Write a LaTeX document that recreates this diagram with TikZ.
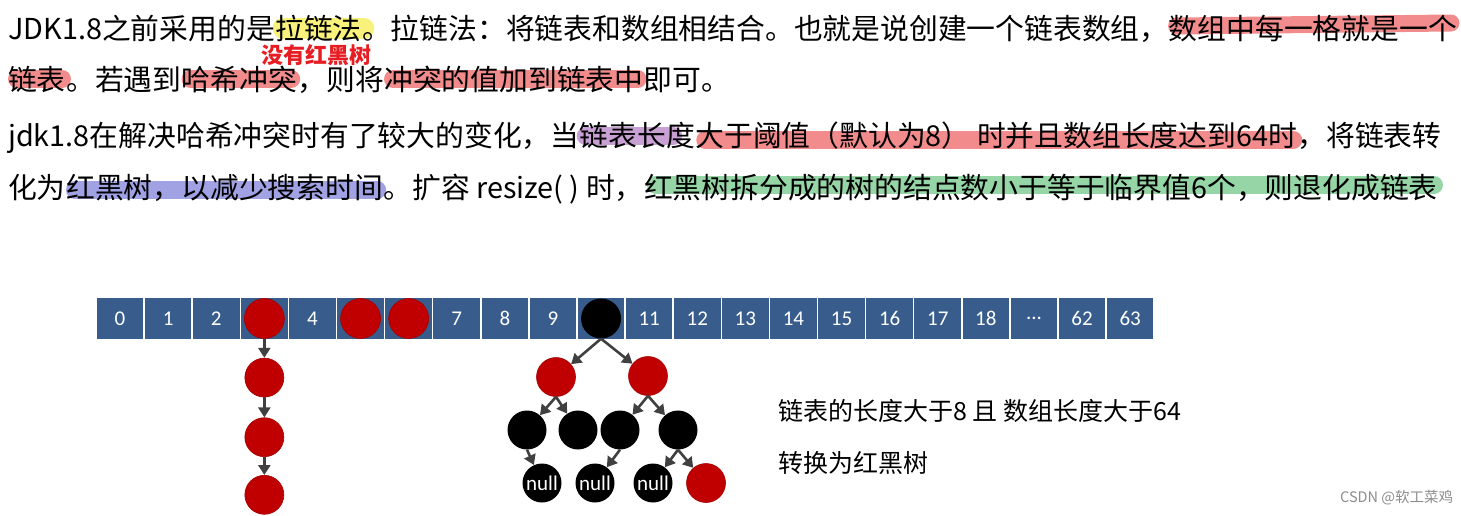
\documentclass[tikz,border=0pt]{standalone}
\usepackage{fontspec}
\setmainfont{Noto Sans CJK SC}
\newfontfamily\numfont{Carlito}
\usetikzlibrary{positioning,arrows.meta,backgrounds}
\definecolor{cellblue}{RGB}{56,93,140}
\definecolor{rbred}{RGB}{192,0,0}
\definecolor{hlyellow}{RGB}{248,242,125}
\definecolor{hlpink}{RGB}{242,140,140}
\definecolor{hlpurple}{RGB}{200,160,212}
\definecolor{hlblue}{RGB}{160,162,228}
\definecolor{hlgreen}{RGB}{150,214,166}
\definecolor{notered}{RGB}{230,30,35}
\definecolor{edgegray}{RGB}{64,64,64}
\newcommand\txtfont{\fontsize{28.8}{34}\selectfont}
\newcommand\celldots{...}

\begin{document}
\begin{tikzpicture}[x=1pt,y=-1pt,
  txt/.style={inner sep=0pt,anchor=base west,font=\txtfont},
  hilite/.style={line width=18pt,line cap=round,draw=#1},
  cell/.style={draw=white,line width=1.5pt,fill=cellblue,text=white,minimum width=48.1pt,minimum height=43pt,inner sep=0pt,font=\numfont\fontsize{21}{24}\selectfont},
  rbr/.style={circle,fill=rbred,draw=rbred!85!black,line width=0.6pt,minimum size=39pt,inner sep=0pt},
  rbb/.style={circle,fill=black,minimum size=39pt,inner sep=0pt,text=white,font=\numfont\fontsize{21}{24}\selectfont},
  link/.style={draw=edgegray,line width=2.6pt,-{Triangle[length=10pt,width=12pt]}}]
  \useasboundingbox (0,0) rectangle (1461,515);

  % text lines
  \node[txt] (l1a) at (8,39) {JDK1.8之前采用的是};
  \node[txt] (l1b) at (l1a.base east) {拉链法};
  \node[txt] (l1c) at (l1b.base east) {。拉链法：将链表和数组相结合。也就是说创建一个链表数组，};
  \node[txt] (l1d) at (l1c.base east) {数组中每一格就是一个};
  \node[txt] (l2a) at (8,90) {链表};
  \node[txt] (l2b) at (l2a.base east) {。若遇到};
  \node[txt] (l2c) at (l2b.base east) {哈希冲突};
  \node[txt] (l2d) at (l2c.base east) {，则将};
  \node[txt] (l2e) at (l2d.base east) {冲突的值加到链表中};
  \node[txt] (l2f) at (l2e.base east) {即可。};
  \node[txt] (l3a) at (8,146) {jdk1.8在解决哈希冲突时有了较大的变化，当};
  \node[txt] (l3b) at (l3a.base east) {链表长度};
  \node[txt] (l3c) at (l3b.base east) {大于阈值（默认为8） 时并且数组长度达到64时};
  \node[txt] (l3d) at (l3c.base east) {，将链表转};
  \node[txt] (l4a) at (8,198) {化为};
  \node[txt] (l4b) at (l4a.base east) {红黑树，以减少搜索时间};
  \node[txt] (l4c) at (l4b.base east) {。扩容 resize( ) 时，};
  \node[txt] (l4d) at (l4c.base east) {红黑树拆分成的树的结点数小于等于临界值6个，则退化成链表};
  \node[txt,font=\bfseries\fontsize{22}{26}\selectfont,text=notered] (note) at (261,63) {没有红黑树};

  % marker strokes
  \begin{scope}[on background layer]
    \draw[hilite=hlyellow,line width=21pt] ([xshift=8pt,yshift=11pt]l1b.base west) -- ([xshift=2pt,yshift=11pt]l1b.base east);
    \draw[hilite=hlpink,line width=17pt] ([xshift=8pt,yshift=13pt]l1d.base west) -- ([xshift=-6pt,yshift=16pt]l1d.base east);
    \draw[hilite=hlpink] ([xshift=9pt,yshift=11pt]l2a.base west) -- ([xshift=-4pt,yshift=11pt]l2a.base east);
    \draw[hilite=hlpink] ([xshift=9pt,yshift=11pt]l2c.base west) -- ([xshift=-6pt,yshift=11pt]l2c.base east);
    \draw[hilite=hlpink] ([xshift=9pt,yshift=11pt]l2e.base west) -- ([xshift=-6pt,yshift=11pt]l2e.base east);
    \draw[hilite=hlpurple] ([xshift=6pt,yshift=10pt]l3b.base west) -- ([xshift=-22pt,yshift=10pt]l3b.base east);
    \draw[hilite=hlpink] ([xshift=10pt,yshift=6pt]l3c.base west) -- ([xshift=-4pt,yshift=6pt]l3c.base east);
    \draw[hilite=hlblue] ([xshift=9pt,yshift=8pt]l4b.base west) -- ([xshift=-6pt,yshift=8pt]l4b.base east);
    \draw[hilite=hlgreen] ([xshift=12pt,yshift=13pt]l4d.base west) -- ([xshift=-4pt,yshift=13pt]l4d.base east);
  \end{scope}

  % array
  \foreach \lab [count=\i from 0] in {0,1,2,{},4,{},{},7,8,9,{},11,12,13,14,15,16,17,18,\celldots,62,63}
    \node[cell] (c\i) at ({96+(\i+0.5)*48.1},318.5) {\lab};
  \node[rbr,minimum size=40pt] (h3) at (c3) {};
  \node[rbr,minimum size=40pt] (h5) at (c5) {};
  \node[rbr,minimum size=40pt] (h6) at (c6) {};
  \node[rbb,minimum size=40pt] (t0) at (c10) {};

  % chain
  \node[rbr,below=19pt of h3] (k1) {};
  \node[rbr,below=20pt of k1] (k2) {};
  \node[rbr,below=18pt of k2] (k3) {};
  \draw[link] (h3) -- (k1);
  \draw[link] (k1) -- (k2);
  \draw[link] (k2) -- (k3);

  % tree
  \node[rbr] (t1) at (556,377) {};
  \node[rbr] (t2) at (648,376) {};
  \node[rbb] (t3) at (527,430) {};
  \node[rbb] (t4) at (578,430) {};
  \node[rbb] (t5) at (620,430) {};
  \node[rbb] (t6) at (678,430) {};
  \node[rbb] (t7) at (542,483) {null};
  \node[rbb] (t8) at (595,483) {null};
  \node[rbb] (t9) at (653,483) {null};
  \node[rbr] (t10) at (706,483) {};
  \draw[link] (t0.south) -- (t1);
  \draw[link] (t0.south) -- (t2);
  \draw[link] (t1.south) -- (t3);
  \draw[link] (t1.south) -- (t4);
  \draw[link] (t2.south) -- (t5);
  \draw[link] (t2.south) -- (t6);
  \draw[link] (t3.south) -- (t7);
  \draw[link] (t5.south) -- (t8);
  \draw[link] (t6.south) -- (t9);
  \draw[link] (t6.south) -- (t10);

  \node[txt,font=\fontsize{25}{30}\selectfont] (n1) at (778,420) {链表的长度大于8 且 数组长度大于64};
  \node[txt,font=\fontsize{25}{30}\selectfont] (n2) at (778,472) {转换为红黑树};
  \node[txt,font=\fontsize{14.5}{17}\selectfont,text=black!45] (wm) at (1340,502) {CSDN @软工菜鸡};
\end{tikzpicture}
\end{document}
